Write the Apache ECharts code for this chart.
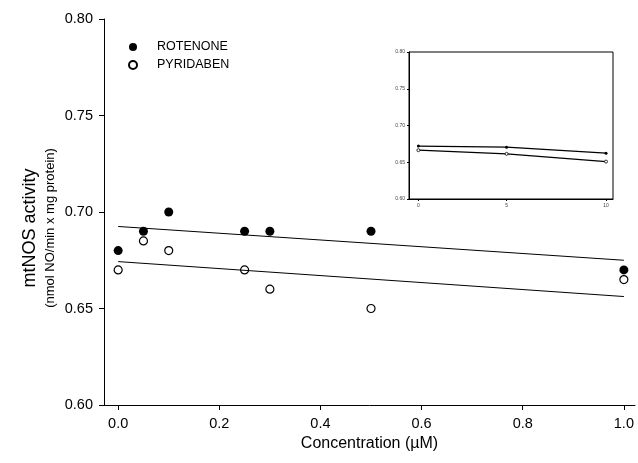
<!DOCTYPE html>
<html>
<head>
<meta charset="utf-8">
<script src="https://cdn.jsdelivr.net/npm/echarts@6/dist/echarts.min.js"></script>
<style>html,body{margin:0;padding:0;background:#fff}#c{width:638px;height:463px}</style>
</head>
<body>
<div id="c"></div>
<script>
// ---- data ----
const conc      = [0, 0.05, 0.1, 0.25, 0.3, 0.5, 1.0];
const rotenone  = [0.68, 0.69, 0.70, 0.69, 0.69, 0.69, 0.67];
const pyridaben = [0.67, 0.685, 0.68, 0.67, 0.66, 0.65, 0.665];
// fitted regression lines (end points at x = 0 and x = 1)
const fitX      = [0, 1.0];
const rotFit    = [0.6925, 0.675];
const pyrFit    = [0.6743, 0.6562];
const xTicks    = [0, 0.2, 0.4, 0.6, 0.8, 1.0];
const yTicks    = [0.60, 0.65, 0.70, 0.75, 0.80];
// inset panel
const insetX       = [0, 0.47, 1.0];
const insetXLabels = ['0', '5', '10'];
const insetRot     = [0.672, 0.6705, 0.6623];
const insetPyr     = [0.6664, 0.6614, 0.6509];

const FONT = '"Liberation Sans", Arial, sans-serif';
const pairs = (xs, ys) => xs.map((x, i) => [x, ys[i]]);

const chart = echarts.init(document.getElementById('c'), null, {renderer: 'canvas'});
chart.setOption({
  animation: false,
  backgroundColor: '#fff',
  textStyle: {fontFamily: FONT, color: '#000'},
  grid: [
    {left: 104, top: 19, width: 531, height: 386, show: false},
    {left: 409, top: 52, width: 204, height: 147, show: true, borderColor: '#000', borderWidth: 1, backgroundColor: 'transparent'}
  ],
  legend: {
    orient: 'vertical', left: 123, top: 35, itemWidth: 38, itemHeight: 8, itemGap: 4,
    data: ['ROTENONE', 'PYRIDABEN'],
    textStyle: {fontFamily: FONT, fontSize: 12.5, color: '#000', lineHeight: 14}
  },
  xAxis: [
    {
      gridIndex: 0, type: 'value', min: -0.028, max: 1.022,
      name: 'Concentration (\u00B5M)', nameLocation: 'middle', nameGap: 29,
      nameTextStyle: {fontFamily: FONT, fontSize: 16, color: '#000'},
      axisLine: {onZero: false, lineStyle: {color: '#000', width: 1}},
      axisTick: {show: true, length: 5, customValues: xTicks, lineStyle: {color: '#000'}},
      axisLabel: {customValues: xTicks, margin: 11, fontFamily: FONT, fontSize: 14.5, color: '#000',
                  formatter: v => v.toFixed(1)},
      splitLine: {show: false}
    },
    {
      gridIndex: 1, type: 'value', min: -0.05, max: 1.037,
      axisLine: {onZero: false, lineStyle: {color: '#000', width: 1}},
      axisTick: {show: true, length: 2, customValues: insetX, lineStyle: {color: '#000'}},
      axisLabel: {customValues: insetX, margin: 4, fontSize: 5, color: '#444',
                  formatter: v => { const i = insetX.findIndex(x => Math.abs(x - v) < 1e-6); return i >= 0 ? insetXLabels[i] : ''; }},
      splitLine: {show: false}
    }
  ],
  yAxis: [
    {
      gridIndex: 0, type: 'value', min: 0.60, max: 0.80,
      axisLine: {show: true, onZero: false, lineStyle: {color: '#000', width: 1}},
      axisTick: {show: true, length: 5, customValues: yTicks, lineStyle: {color: '#000'}},
      axisLabel: {customValues: yTicks, margin: 11, fontFamily: FONT, fontSize: 14.5, color: '#000',
                  formatter: v => v.toFixed(2)},
      splitLine: {show: false}
    },
    {
      gridIndex: 1, type: 'value', min: 0.60, max: 0.80,
      axisLine: {show: true, onZero: false, lineStyle: {color: '#000', width: 1}},
      axisTick: {show: true, length: 2, customValues: yTicks, lineStyle: {color: '#000'}},
      axisLabel: {customValues: yTicks, margin: 4, fontSize: 5, color: '#444',
                  formatter: v => v.toFixed(2)},
      splitLine: {show: false}
    }
  ],
  graphic: [
    {type: 'text', x: 30, y: 228, rotation: Math.PI / 2,
     style: {text: 'mtNOS activity', font: '18px ' + FONT, fill: '#000', align: 'center', verticalAlign: 'middle'}},
    {type: 'text', x: 50, y: 228, rotation: Math.PI / 2,
     style: {text: '(nmol NO/min x mg protein)', font: '13px ' + FONT, fill: '#000', align: 'center', verticalAlign: 'middle'}}
  ],
  series: [
    {name: 'fitR', type: 'line', xAxisIndex: 0, yAxisIndex: 0, data: pairs(fitX, rotFit),
     showSymbol: false, silent: true, lineStyle: {color: '#000', width: 1}},
    {name: 'fitP', type: 'line', xAxisIndex: 0, yAxisIndex: 0, data: pairs(fitX, pyrFit),
     showSymbol: false, silent: true, lineStyle: {color: '#000', width: 1}},
    {name: 'ROTENONE', type: 'scatter', xAxisIndex: 0, yAxisIndex: 0, data: pairs(conc, rotenone),
     symbol: 'circle', symbolSize: 9, itemStyle: {color: '#000', borderWidth: 0, opacity: 1}},
    {name: 'PYRIDABEN', type: 'scatter', xAxisIndex: 0, yAxisIndex: 0, data: pairs(conc, pyridaben),
     symbol: 'circle', symbolSize: 8, itemStyle: {color: '#fff', borderColor: '#000', borderWidth: 1.2, opacity: 1}},
    {name: 'insetR', type: 'line', xAxisIndex: 1, yAxisIndex: 1, data: pairs(insetX, insetRot),
     symbol: 'circle', symbolSize: 3, lineStyle: {color: '#000', width: 1.2}, itemStyle: {color: '#000'}},
    {name: 'insetP', type: 'line', xAxisIndex: 1, yAxisIndex: 1, data: pairs(insetX, insetPyr),
     symbol: 'circle', symbolSize: 3, lineStyle: {color: '#000', width: 1.2}, itemStyle: {color: '#fff', borderColor: '#000', borderWidth: 0.8}}
  ]
});
</script>
</body>
</html>
